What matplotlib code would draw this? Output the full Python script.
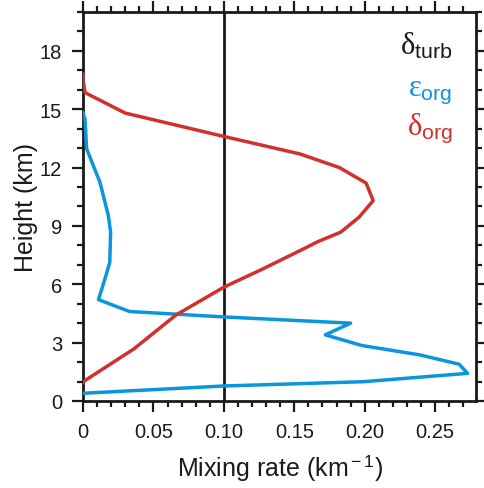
"""Mixing-rate profiles: organized entrainment / detrainment vs height."""
import matplotlib
matplotlib.use("Agg")
import matplotlib.pyplot as plt
from matplotlib.ticker import MultipleLocator, FixedLocator

plt.rcParams["font.family"] = ["Liberation Sans", "DejaVu Sans"]
plt.rcParams["mathtext.fontset"] = "custom"
plt.rcParams["mathtext.rm"] = "Liberation Sans"
plt.rcParams["mathtext.it"] = "Liberation Serif"  # upright greek in the legend

# delta_org (red): mixing rate (km^-1) and height (km)
delta_org_x = [0.0, 0.0, 0.0015, 0.030, 0.100, 0.142, 0.154, 0.182, 0.201, 0.206,
               0.196, 0.183, 0.167, 0.156, 0.128, 0.100, 0.066, 0.036, 0.0014, 0.0]
delta_org_z = [16.8, 16.5, 15.85, 14.8, 13.6, 12.9, 12.7, 12.0, 11.2, 10.3,
               9.45, 8.68, 8.2, 7.8, 6.8, 5.85, 4.42, 2.67, 1.05, 0.95]

# eps_org (blue)
eps_org_x = [0.0, 0.0014, 0.0026, 0.012, 0.018, 0.0196, 0.019, 0.0163, 0.011,
             0.033, 0.100, 0.190, 0.172, 0.198, 0.239, 0.267, 0.273, 0.199,
             0.100, 0.0014, 0.0]
eps_org_z = [14.8, 14.5, 12.96, 11.25, 9.53, 8.67, 7.13, 6.45, 5.21,
             4.6, 4.32, 4.0, 3.4, 2.85, 2.37, 1.89, 1.42, 0.99,
             0.77, 0.4, 0.4]

# delta_turb (black) constant
delta_turb = 0.10

RED = "#d2302c"
BLUE = "#0a96dc"
INK = "#1a1a1a"

fig = plt.figure(figsize=(4.84, 4.89), dpi=100)
ax = fig.add_axes([0.1715, 0.178, 0.812, 0.7955])

ax.axvline(delta_turb, color=INK, lw=2.0, zorder=2)
ax.plot(eps_org_x, eps_org_z, color=BLUE, lw=2.5, zorder=3)
ax.plot(delta_org_x, delta_org_z, color=RED, lw=2.5, zorder=3)

ax.set_xlim(0, 0.279)
ax.set_ylim(0, 20)

ax.xaxis.set_major_locator(FixedLocator([0, 0.05, 0.10, 0.15, 0.20, 0.25]))
ax.xaxis.set_minor_locator(MultipleLocator(0.01))
ax.yaxis.set_major_locator(MultipleLocator(3))
ax.yaxis.set_minor_locator(MultipleLocator(1))
ax.set_xticklabels(["0", "0.05", "0.10", "0.15", "0.20", "0.25"])

ax.tick_params(which="both", direction="out", top=True, right=True,
               width=1.6, color=INK, labelsize=14.5, labelcolor=INK)
ax.tick_params(which="major", length=8, pad=7)
ax.tick_params(which="minor", length=4)
for s in ax.spines.values():
    s.set_linewidth(2.0)
    s.set_color(INK)

ax.set_xlabel("Mixing rate (km$^{\\rm -1}$)", fontsize=18, color=INK, labelpad=8)
ax.set_ylabel("Height (km)", fontsize=18, color=INK, labelpad=1)

ax.text(0.94, 0.915, r"$\delta_{\rm turb}$", transform=ax.transAxes, ha="right",
        va="center", fontsize=22, color=INK)
ax.text(0.94, 0.80, r"$\varepsilon_{\rm org}$", transform=ax.transAxes, ha="right",
        va="center", fontsize=22, color=BLUE)
ax.text(0.94, 0.705, r"$\delta_{\rm org}$", transform=ax.transAxes, ha="right",
        va="center", fontsize=22, color=RED)

fig.savefig("out.png", dpi=100)
